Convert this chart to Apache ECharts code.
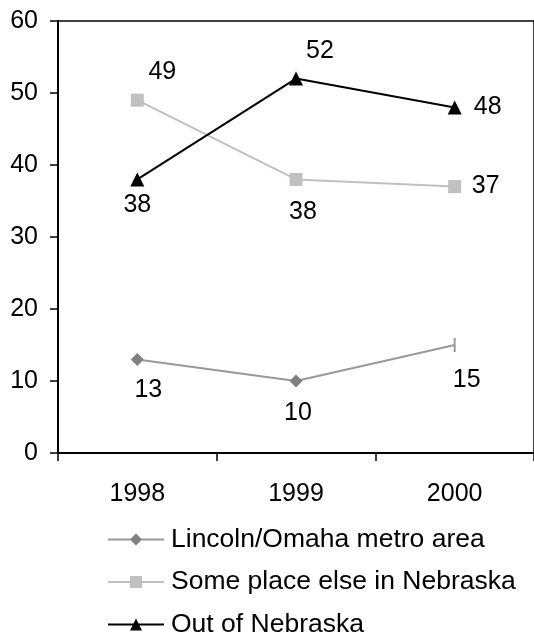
<!DOCTYPE html>
<html>
<head>
<meta charset="utf-8">
<script src="https://cdn.jsdelivr.net/npm/echarts@6/dist/echarts.min.js"></script>
<style>
  html, body { margin: 0; padding: 0; background: #fff; }
  #chart { width: 534px; height: 637px; }
</style>
</head>
<body>
<div id="chart"></div>
<script>
  // 数据
  const years = ['1998', '1999', '2000']
  const metroValues = [13, 10, 15]
  const elseValues = [49, 38, 37]
  const outValues = [38, 52, 48]
  const seriesNames = ['Lincoln/Omaha metro area', 'Some place else in Nebraska', 'Out of Nebraska']

  // label offsets from each point (centre of text)
  const metroOffsets = [[11, 31], [2, 32], [12, 35]]
  const elseOffsets = [[25, -28], [7, 33], [31, 0]]
  const outOffsets = [[0, 26], [24, -27], [33, 0]]

  const FONT = 'Arial, "Liberation Sans", sans-serif'
  const FS = 25

  function buildData(values, offsets, extra) {
    return values.map((v, i) => {
      const item = {
        value: v,
        label: { offset: offsets[i] }
      }
      if (extra && extra[i]) Object.assign(item, extra[i])
      return item
    })
  }

  const myChart = echarts.init(document.getElementById('chart'), null, { renderer: 'canvas' })

  const labelBase = {
    show: true,
    position: 'inside',
    color: '#000',
    fontSize: FS,
    fontFamily: FONT
  }

  const option = {
    animation: false,
    textStyle: { fontFamily: FONT },
    grid: {
      left: 58,
      top: 21,
      width: 480,
      height: 432,
      show: true,
      borderColor: '#000',
      borderWidth: 1.5,
      backgroundColor: 'transparent'
    },
    xAxis: {
      type: 'category',
      data: years,
      boundaryGap: true,
      axisLine: { lineStyle: { color: '#000', width: 2 } },
      axisTick: { show: true, length: 8, lineStyle: { color: '#000', width: 1.5 } },
      axisLabel: { color: '#000', fontSize: FS, fontFamily: FONT, margin: 29 },
      splitLine: { show: false }
    },
    yAxis: {
      type: 'value',
      min: 0,
      max: 60,
      interval: 10,
      axisLine: { show: true, lineStyle: { color: '#000', width: 2 } },
      axisTick: { show: true, length: 8, lineStyle: { color: '#000', width: 1.5 } },
      axisLabel: { color: '#000', fontSize: FS, fontFamily: FONT, margin: 20 },
      splitLine: { show: false }
    },
    legend: {
      orient: 'vertical',
      left: 107,
      top: 526,
      height: 150,
      padding: 0,
      itemWidth: 56,
      itemHeight: 15,
      itemGap: 15.5,
      data: seriesNames,
      textStyle: { color: '#000', fontSize: 26.5, fontFamily: FONT, padding: [0, 0, 0, 2] }
    },
    series: [
      {
        name: seriesNames[0],
        type: 'line',
        symbol: 'diamond',
        symbolSize: 13,
        itemStyle: { color: '#808080' },
        lineStyle: { color: '#999999', width: 2 },
        label: labelBase,
        data: buildData(metroValues, metroOffsets, [null, null, { symbol: 'rect', symbolSize: [2, 14], itemStyle: { color: '#999999' } }])
      },
      {
        name: seriesNames[1],
        type: 'line',
        symbol: 'rect',
        symbolSize: 13,
        itemStyle: { color: '#c0c0c0' },
        lineStyle: { color: '#c0c0c0', width: 2 },
        label: labelBase,
        data: buildData(elseValues, elseOffsets)
      },
      {
        name: seriesNames[2],
        type: 'line',
        symbol: 'triangle',
        symbolSize: 14,
        itemStyle: { color: '#000' },
        lineStyle: { color: '#000', width: 2 },
        label: labelBase,
        data: buildData(outValues, outOffsets)
      }
    ]
  }

  myChart.setOption(option)
</script>
</body>
</html>
